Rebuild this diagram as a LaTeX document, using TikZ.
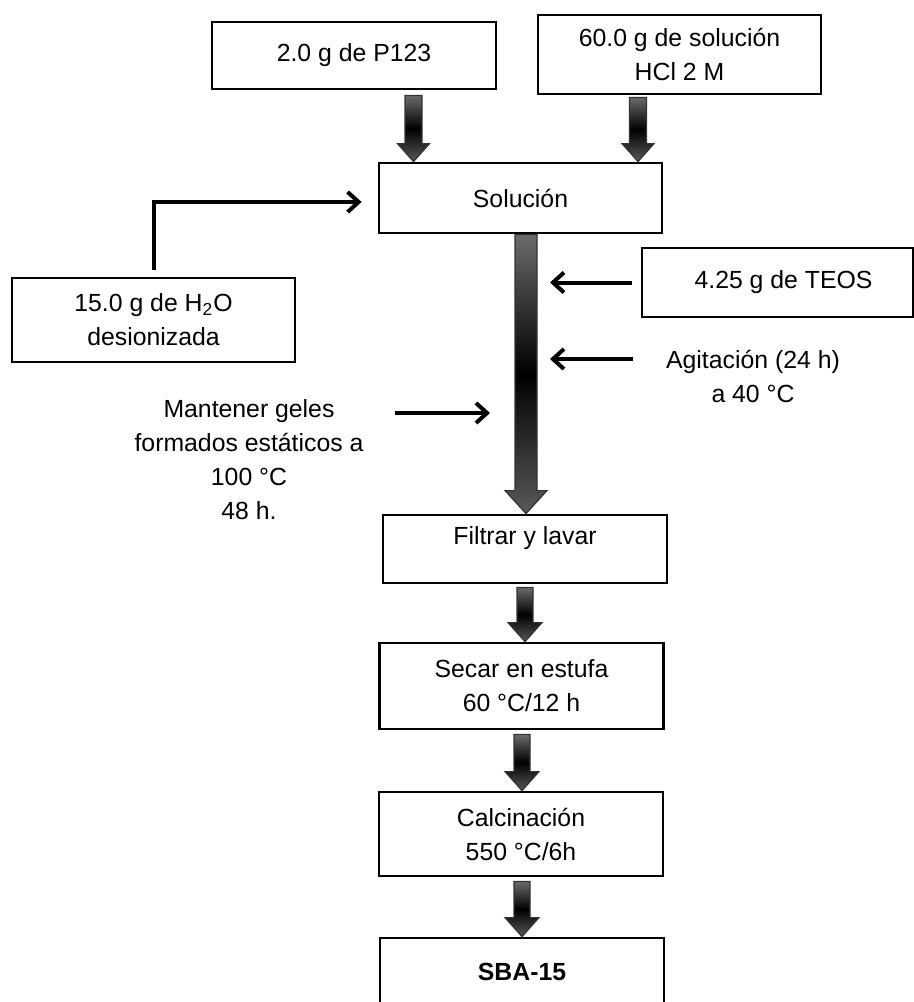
\documentclass[tikz,border=0pt]{standalone}
\usepackage{fontspec}
\setmainfont{Liberation Sans}
\usepackage{tikz}
\usetikzlibrary{arrows.meta,calc,positioning}
\tikzset{
        box/.style = {draw, rectangle, line width=1.4pt,
            align=center, inner sep=2pt,
            minimum width=142pt,
            minimum height=34pt},
        txt/.style = {align=center},
        thinarrow/.style = {draw, line width=2pt,
            -{Straight Barb[length=5.5pt,width=10pt]}},
        fatarrow/.style = {draw=black!80, line width=0.6pt,
            top color=black!58, bottom color=black!65, middle color=black},
    }
\newcommand{\blockarrow}[5]{%
    \path[fatarrow] let \p1=(#1), \p2=(#2) in
        (\x1-#3,\y1) -- (\x1+#3,\y1) -- (\x1+#3,\y2+#5) -- (\x1+#4,\y2+#5)
        -- (\x1,\y2) -- (\x1-#4,\y2+#5) -- (\x1-#3,\y2+#5) -- cycle;}
\begin{document}
\begin{tikzpicture}[x=0.5pt,y=-0.5pt,font=\fontsize{12.4}{17}\selectfont]
                    \useasboundingbox (0,0) rectangle (914,1002);
                    \clip (0,0) rectangle (914,1002);

                    \node[box, minimum height=33.5pt] (p123) at (354,55.5) {2.0 g de P123};
                    \node[box, minimum width=141.5pt, minimum height=39.5pt] (hcl) at (679.5,54.5)
                        {60.0 g de solución\\HCl 2 M};
                    \node[box, minimum width=141.5pt, minimum height=35pt] (sol) at (520.5,198) {Solución};
                    \node[box, minimum width=135.5pt, minimum height=34.5pt] (teos) at (777.5,282.5)
                        {\hspace{6pt}4.25 g de TEOS};
                    \node[box, minimum width=141.5pt, minimum height=42pt] (agua) at (153.5,320)
                        {15.0 g de H\textsubscript{2}O\\desionizada};
                    \node[txt] (agit) at (753,376) {Agitación (24 h)\\a 40 °C};
                    \node[txt] (mant) at (249,460) {Mantener geles\\formados estáticos a\\100 °C\\48 h.};
                    \node[box, text depth=13.6pt] (filtrar) at (525,549) {Filtrar y lavar};
                    \node[box, minimum height=43pt] (secar) at (521.5,686) {Secar en estufa\\60 °C/12 h};
                    \node[box, minimum height=42pt] (calc) at (521,834) {Calcinación\\550 °C/6h};
                    \node[box] (sba) at (522,972) {\textbf{SBA-15}};

                    \coordinate (p123out) at ($(p123.south)+(59.5,5)$);
                    \coordinate (hclout) at ($(hcl.south)+(-41.5,2)$);
                    \coordinate (solout) at ($(sol.south)+(5.5,0)$);
                    \coordinate (filtrarout) at ($(filtrar.south)+(0,3)$);
                    \coordinate (secarout) at ($(secar.south)+(0.5,4)$);
                    \coordinate (calcout) at ($(calc.south)+(1,4)$);
                    \coordinate (teosin) at (550,281);
                    \coordinate (agitout) at (633,359);
                    \coordinate (agitin) at (550,359);
                    \coordinate (mantout) at (395,413);
                    \coordinate (mantin) at (490,413);

                    \blockarrow{p123out}{sol.north}{4.25pt}{8pt}{9pt}
                    \blockarrow{hclout}{sol.north}{4.25pt}{8pt}{9pt}
                    \blockarrow{solout}{filtrar.north}{5.5pt}{10.5pt}{11.5pt}
                    \blockarrow{filtrarout}{secar.north}{4pt}{8.5pt}{9.5pt}
                    \blockarrow{secarout}{calc.north}{4pt}{8.5pt}{9.5pt}
                    \blockarrow{calcout}{sba.north}{4pt}{8.5pt}{9.5pt}

                    \draw[thinarrow] ([yshift=3.5pt]agua.north) |- ([xshift=-8pt,yshift=-2pt]sol.west);
                    \draw[thinarrow] ([xshift=-4.5pt]teos.west) -- (teosin |- teos.west);
                    \draw[thinarrow] (agitout) -- (agitin);
                    \draw[thinarrow] (mantout) -- (mantin);
\end{tikzpicture}
\end{document}
